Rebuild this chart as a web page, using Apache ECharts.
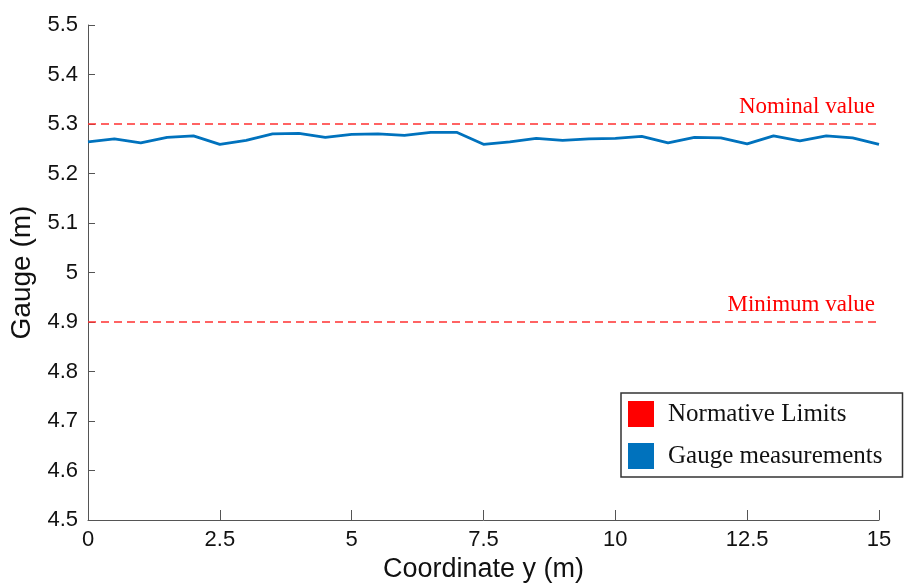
<!DOCTYPE html>
<html>
<head>
<meta charset="utf-8">
<script src="https://cdn.jsdelivr.net/npm/echarts@6/dist/echarts.min.js"></script>
<style>html,body{margin:0;padding:0;background:#fff}#c{width:909px;height:583px}</style>
</head>
<body>
<div id="c"></div>
<script>
// Data
const positions = [0,0.5,1,1.5,2,2.5,3,3.5,4,4.5,5,5.5,6,6.5,7,7.5,8,8.5,9,9.5,10,10.5,11,11.5,12,12.5,13,13.5,14,14.5,15];
const gauge = [5.264,5.270,5.262,5.273,5.276,5.259,5.267,5.280,5.281,5.273,5.279,5.280,5.277,5.283,5.283,5.259,5.264,5.271,5.267,5.270,5.271,5.275,5.262,5.273,5.272,5.260,5.276,5.266,5.276,5.272,5.259];
const limitValues = [5.3, 4.9];
const limitLabels = ['Nominal value', 'Minimum value'];
const seriesNames = ['Normative Limits', 'Gauge measurements'];

const chart = echarts.init(document.getElementById('c'));
const sans = 'Liberation Sans';
const serif = 'Liberation Serif';
chart.setOption({
  animation: false,
  backgroundColor: '#fff',
  grid: {left: 88, right: 30, top: 25, bottom: 63, outerBoundsMode: 'none', containLabel: false},
  xAxis: {
    type: 'value', min: 0, max: 15, interval: 2.5,
    name: 'Coordinate y (m)', nameLocation: 'middle', nameGap: 28,
    nameTextStyle: {fontFamily: sans, fontSize: 27, color: '#111'},
    axisLine: {lineStyle: {color: '#555', width: 1}},
    axisTick: {inside: true, length: 10, lineStyle: {color: '#555'}},
    axisLabel: {fontFamily: sans, fontSize: 22, color: '#111', margin: 9},
    splitLine: {show: false}
  },
  yAxis: {
    type: 'value', min: 4.5, max: 5.5, interval: 0.1,
    name: 'Gauge (m)', nameLocation: 'middle', nameGap: 50, nameRotate: 90,
    nameTextStyle: {fontFamily: sans, fontSize: 28, color: '#111'},
    axisLine: {show: true, lineStyle: {color: '#555', width: 1}},
    axisTick: {show: true, inside: true, length: 7, lineStyle: {color: '#555'}},
    axisLabel: {fontFamily: sans, fontSize: 22, color: '#111', margin: 10,
      formatter: v => String(Math.round(v * 10) / 10)},
    splitLine: {show: false}
  },
  legend: {
    left: 621, top: 393, orient: 'vertical',
    data: seriesNames, icon: 'rect', itemWidth: 26, itemHeight: 26, itemGap: 16,
    padding: [8, 20, 8, 7],
    borderColor: '#333', borderWidth: 1.5, backgroundColor: '#fff',
    textStyle: {fontFamily: serif, fontSize: 25, color: '#111', padding: [0,0,0,9]},
    selectedMode: false
  },
  series: [
    {
      name: seriesNames[0], type: 'line', data: [],
      itemStyle: {color: '#ff0000'}, lineStyle: {color: '#ff0000'},
      markLine: {
        silent: true, symbol: 'none',
        lineStyle: {color: '#ff3030', type: [8, 5], width: 1.5},
        label: {position: 'insideEndTop', distance: [4, 6], fontFamily: serif, fontSize: 23, color: '#ff0000',
          formatter: p => limitLabels[p.dataIndex]},
        data: limitValues.map(v => ({yAxis: v}))
      }
    },
    {
      name: seriesNames[1], type: 'line', symbol: 'none',
      data: positions.map((x, i) => [x, gauge[i]]),
      itemStyle: {color: '#0072BD'},
      lineStyle: {color: '#0072BD', width: 2.8}
    }
  ]
});
</script>
</body>
</html>
